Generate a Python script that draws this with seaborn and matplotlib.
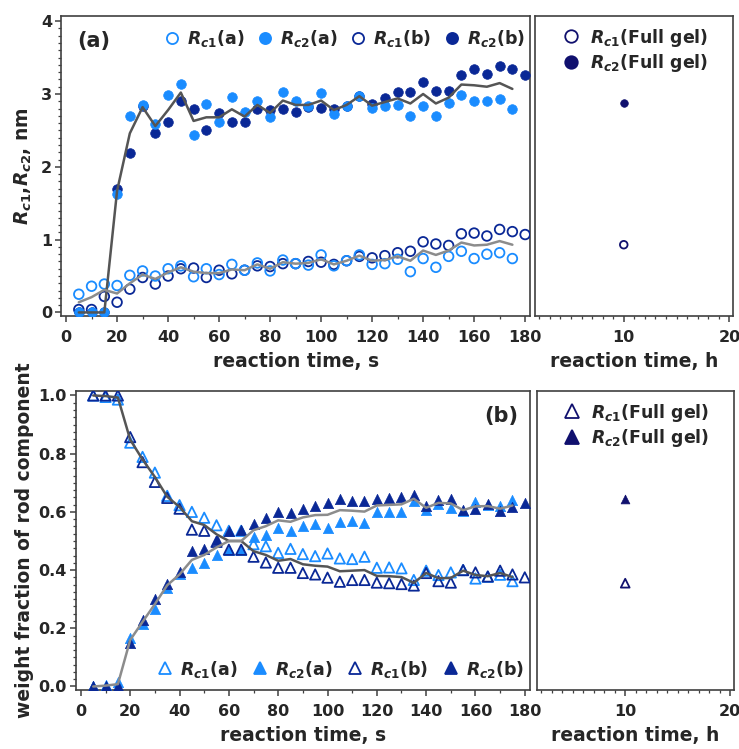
import numpy as np
import pandas as pd
import seaborn as sns
import matplotlib.pyplot as plt
from matplotlib.lines import Line2D
from matplotlib.ticker import MultipleLocator

# reaction time grid, s
t_a = list(range(5, 180, 5))   # series (a): 5..175
t_b = list(range(5, 185, 5))   # series (b): 5..180

# panel (a): radii, nm
rc1_a = [0.25, 0.36, 0.39, 0.37, 0.51, 0.57, 0.50, 0.60, 0.64, 0.49,
         0.60, 0.52, 0.66, 0.58, 0.68, 0.57, 0.72, 0.67, 0.65, 0.79,
         0.64, 0.71, 0.79, 0.66, 0.67, 0.73, 0.56, 0.74, 0.62, 0.77,
         0.84, 0.74, 0.80, 0.82, 0.74]
rc2_a = [0.0, 0.0, 0.0, 1.62, 2.70, 2.85, 2.59, 2.98, 3.14, 2.44,
         2.86, 2.61, 2.96, 2.75, 2.91, 2.69, 3.03, 2.91, 2.83, 3.02,
         2.72, 2.83, 2.97, 2.81, 2.83, 2.85, 2.70, 2.83, 2.70, 2.87,
         2.98, 2.90, 2.91, 2.93, 2.79]
rc1_b = [0.04, 0.04, 0.22, 0.14, 0.32, 0.48, 0.39, 0.50, 0.60, 0.61,
         0.48, 0.58, 0.53, 0.58, 0.64, 0.63, 0.67, 0.67, 0.70, 0.69,
         0.66, 0.71, 0.77, 0.75, 0.78, 0.82, 0.84, 0.97, 0.94, 0.92,
         1.08, 1.09, 1.05, 1.14, 1.11, 1.07]
rc2_b = [0.0, 0.0, 0.0, 1.69, 2.19, 2.83, 2.47, 2.61, 2.91, 2.80,
         2.51, 2.74, 2.61, 2.61, 2.79, 2.78, 2.79, 2.75, 2.82, 2.81,
         2.80, 2.83, 2.97, 2.86, 2.95, 3.03, 3.03, 3.17, 3.04, 3.04,
         3.26, 3.34, 3.27, 3.38, 3.35, 3.26]
rc1_avg = [0.14, 0.21, 0.31, 0.26, 0.40, 0.52, 0.46, 0.55, 0.62, 0.56,
           0.54, 0.54, 0.59, 0.58, 0.66, 0.60, 0.69, 0.67, 0.68, 0.73,
           0.66, 0.71, 0.78, 0.71, 0.72, 0.77, 0.71, 0.85, 0.79, 0.85,
           0.96, 0.92, 0.93, 0.98, 0.93]
rc2_avg = [0.0, 0.0, 0.0, 1.67, 2.46, 2.82, 2.56, 2.78, 3.02, 2.63,
           2.68, 2.68, 2.79, 2.69, 2.85, 2.74, 2.91, 2.85, 2.85, 2.91,
           2.78, 2.85, 2.97, 2.84, 2.89, 2.94, 2.87, 3.00, 2.87, 2.95,
           3.13, 3.12, 3.10, 3.15, 3.07]

# panel (b): weight fraction of rod component
w1_a = [1.0, 0.995, 0.986, 0.838, 0.789, 0.735, 0.655, 0.623, 0.60, 0.58,
        0.554, 0.535, 0.535, 0.489, 0.482, 0.459, 0.473, 0.455, 0.448, 0.457,
        0.44, 0.438, 0.446, 0.408, 0.409, 0.406, 0.366, 0.398, 0.383, 0.392,
        0.40, 0.371, 0.377, 0.384, 0.362]
w2_a = [0.0, 0.005, 0.014, 0.166, 0.214, 0.268, 0.338, 0.385, 0.408, 0.425,
        0.451, 0.468, 0.468, 0.514, 0.522, 0.543, 0.534, 0.551, 0.557, 0.546,
        0.566, 0.570, 0.562, 0.60, 0.598, 0.601, 0.637, 0.608, 0.627, 0.612,
        0.603, 0.633, 0.622, 0.621, 0.64]
w1_b = [1.0, 1.0, 1.0, 0.857, 0.771, 0.703, 0.648, 0.611, 0.539, 0.535,
        0.497, 0.47, 0.47, 0.446, 0.426, 0.408, 0.408, 0.39, 0.385, 0.374,
        0.36, 0.366, 0.366, 0.357, 0.355, 0.352, 0.347, 0.39, 0.362, 0.357,
        0.40, 0.392, 0.378, 0.398, 0.385, 0.375]
w2_b = [0.0, 0.0, 0.0, 0.149, 0.229, 0.30, 0.352, 0.392, 0.466, 0.473,
        0.505, 0.535, 0.537, 0.56, 0.579, 0.60, 0.597, 0.611, 0.62, 0.631,
        0.643, 0.638, 0.638, 0.646, 0.649, 0.651, 0.657, 0.62, 0.641, 0.646,
        0.608, 0.611, 0.628, 0.604, 0.618, 0.629]
w1_avg = [1.0, 0.998, 0.993, 0.848, 0.78, 0.72, 0.652, 0.617, 0.568, 0.555,
          0.523, 0.50, 0.50, 0.465, 0.452, 0.432, 0.438, 0.42, 0.415, 0.412,
          0.396, 0.398, 0.40, 0.38, 0.379, 0.376, 0.356, 0.39, 0.372, 0.373,
          0.398, 0.383, 0.379, 0.39, 0.376]
w2_avg = [0.0, 0.003, 0.008, 0.16, 0.222, 0.283, 0.348, 0.385, 0.435, 0.452,
          0.478, 0.50, 0.50, 0.537, 0.551, 0.571, 0.566, 0.581, 0.589, 0.59,
          0.606, 0.604, 0.601, 0.622, 0.624, 0.626, 0.645, 0.614, 0.631, 0.629,
          0.606, 0.619, 0.62, 0.611, 0.622]

# full gel, reaction time in h
t_gel = [10]
gel_rc1, gel_rc2 = [0.93], [2.87]
gel_w1, gel_w2 = [0.355], [0.645]

light = '#1a8cff'
dark = '#0a2896'
navy = '#10106e'
gray_dk = '#555555'
gray_lt = '#8c8c8c'

sns.set_style('ticks')
plt.rcParams['font.family'] = ['DejaVu Sans']
plt.rcParams['font.weight'] = 'bold'
plt.rcParams['axes.labelweight'] = 'bold'
plt.rcParams['mathtext.fontset'] = 'custom'
plt.rcParams['mathtext.it'] = 'DejaVu Sans:italic:bold'
plt.rcParams['mathtext.rm'] = 'DejaVu Sans:bold'
plt.rcParams['mathtext.bf'] = 'DejaVu Sans:bold'

fig = plt.figure(figsize=(7.39, 7.49), dpi=100)
ax1 = fig.add_axes([0.0825, 0.578, 0.635, 0.4005])
ax2 = fig.add_axes([0.724, 0.578, 0.268, 0.4005])
ax3 = fig.add_axes([0.1028, 0.0788, 0.614, 0.399])
ax4 = fig.add_axes([0.7266, 0.0788, 0.2666, 0.399])


def pts(ax, x, y, col, mk, s, filled, lw=1.3):
    if filled:
        sns.scatterplot(x=x, y=y, ax=ax, marker=mk, s=s, color=col,
                        edgecolor=col, linewidth=0.5, legend=False, zorder=3)
    else:
        sns.scatterplot(x=x, y=y, ax=ax, marker=mk, s=s, facecolor='none',
                        edgecolor=col, linewidth=lw, legend=False, zorder=3)


def style(ax, xl):
    for sp in ax.spines.values():
        sp.set_color('#404040')
        sp.set_linewidth(1.2)
        sp.set_visible(True)
    ax.tick_params(which='major', direction='out', length=4, width=1.1,
                   labelsize=11.5, color='#404040', pad=2.5)
    ax.tick_params(which='minor', direction='out', length=2.5, width=0.9,
                   color='#404040')
    ax.tick_params(axis='x', which='major', pad=6)
    ax.set_xlabel(xl, fontsize=13.5, fontweight='bold', labelpad=5)


def key(col, mk, filled, ms):
    return Line2D([], [], ls='none', marker=mk, ms=ms, mew=1.3,
                  mec=col, mfc=col if filled else 'none')


# ---- (a) radii vs time
pts(ax1, t_b, rc1_b, dark, 'o', 48, False)
pts(ax1, t_b, rc2_b, dark, 'o', 48, True)
pts(ax1, t_a, rc1_a, light, 'o', 48, False)
pts(ax1, t_a, rc2_a, light, 'o', 48, True)
sns.lineplot(x=t_a, y=rc2_avg, ax=ax1, color=gray_dk, lw=1.8, zorder=4)
sns.lineplot(x=t_a, y=rc1_avg, ax=ax1, color=gray_lt, lw=1.8, zorder=4)
ax1.set_xlim(-2, 182)
ax1.set_ylim(-0.05, 4.07)
ax1.set_xticks(range(0, 181, 20))
ax1.xaxis.set_minor_locator(MultipleLocator(10))
ax1.yaxis.set_minor_locator(MultipleLocator(0.1))
ax1.set_yticks([0, 1, 2, 3, 4])
style(ax1, 'reaction time, s')
ax1.set_ylabel('$R_{c1}$,$R_{c2}$, nm', fontsize=13.5)
ax1.yaxis.set_label_coords(-0.058, 0.5)
ax1.text(0.035, 0.95, '(a)', transform=ax1.transAxes, fontsize=15,
         fontweight='bold', va='top')
ax1.legend([key(light, 'o', False, 8), key(light, 'o', True, 8),
            key(dark, 'o', False, 8), key(dark, 'o', True, 8)],
           ['$R_{c1}$(a)', '$R_{c2}$(a)', '$R_{c1}$(b)', '$R_{c2}$(b)'],
           loc='upper right', ncol=4, frameon=False, fontsize=12.5,
           handletextpad=0.25, columnspacing=0.6, handlelength=1.2,
           borderaxespad=0.3, bbox_to_anchor=(1.015, 1.0))

# ---- (a) full gel
pts(ax2, t_gel, gel_rc1, navy, 'o', 30, False)
pts(ax2, t_gel, gel_rc2, navy, 'o', 30, True)
ax2.set_xlim(1.6, 20.35)
ax2.set_ylim(ax1.get_ylim())
ax2.set_xticks([10, 20])
ax2.xaxis.set_minor_locator(MultipleLocator(1))
ax2.set_yticks([])
style(ax2, 'reaction time, h')
ax2.legend([key(navy, 'o', False, 9), key(navy, 'o', True, 9)],
           ['$R_{c1}$(Full gel)', '$R_{c2}$(Full gel)'],
           loc='upper center', frameon=False, fontsize=12.5,
           handletextpad=0.5, handlelength=1.2, borderaxespad=0.2,
           labelspacing=0.2)

# ---- (b) weight fractions vs time
pts(ax3, t_a, w1_a, light, '^', 55, False)
pts(ax3, t_a, w2_a, light, '^', 55, True)
pts(ax3, t_b, w1_b, dark, '^', 55, False)
pts(ax3, t_b, w2_b, dark, '^', 55, True)
sns.lineplot(x=t_a, y=w1_avg, ax=ax3, color=gray_dk, lw=1.8, zorder=4)
sns.lineplot(x=t_a, y=w2_avg, ax=ax3, color=gray_lt, lw=1.8, zorder=4)
ax3.set_xlim(-2, 182)
ax3.set_ylim(-0.012, 1.015)
ax3.set_xticks(range(0, 181, 20))
ax3.xaxis.set_minor_locator(MultipleLocator(10))
ax3.set_yticks(np.arange(0, 1.01, 0.2))
ax3.yaxis.set_minor_locator(MultipleLocator(0.025))
style(ax3, 'reaction time, s')
ax3.set_ylabel('weight fraction of rod component', fontsize=13.5)
ax3.yaxis.set_label_coords(-0.0925, 0.5)
ax3.text(0.975, 0.95, '(b)', transform=ax3.transAxes, fontsize=15,
         fontweight='bold', va='top', ha='right')
ax3.legend([key(light, '^', False, 9), key(light, '^', True, 9),
            key(dark, '^', False, 9), key(dark, '^', True, 9)],
           ['$R_{c1}$(a)', '$R_{c2}$(a)', '$R_{c1}$(b)', '$R_{c2}$(b)'],
           loc='lower right', ncol=4, frameon=False, fontsize=12.5,
           handletextpad=0.25, columnspacing=0.7, handlelength=1.2,
           borderaxespad=0.2, bbox_to_anchor=(1.01, 0.0))

# ---- (b) full gel
pts(ax4, t_gel, gel_w1, navy, '^', 40, False)
pts(ax4, t_gel, gel_w2, navy, '^', 40, True)
ax4.set_xlim(1.6, 20.35)
ax4.set_ylim(ax3.get_ylim())
ax4.set_xticks([10, 20])
ax4.xaxis.set_minor_locator(MultipleLocator(1))
ax4.set_yticks([])
style(ax4, 'reaction time, h')
ax4.legend([key(navy, '^', False, 10), key(navy, '^', True, 10)],
           ['$R_{c1}$(Full gel)', '$R_{c2}$(Full gel)'],
           loc='upper center', frameon=False, fontsize=12.5,
           handletextpad=0.5, handlelength=1.2, borderaxespad=0.2,
           labelspacing=0.2)

fig.savefig('out.png', dpi=100)
